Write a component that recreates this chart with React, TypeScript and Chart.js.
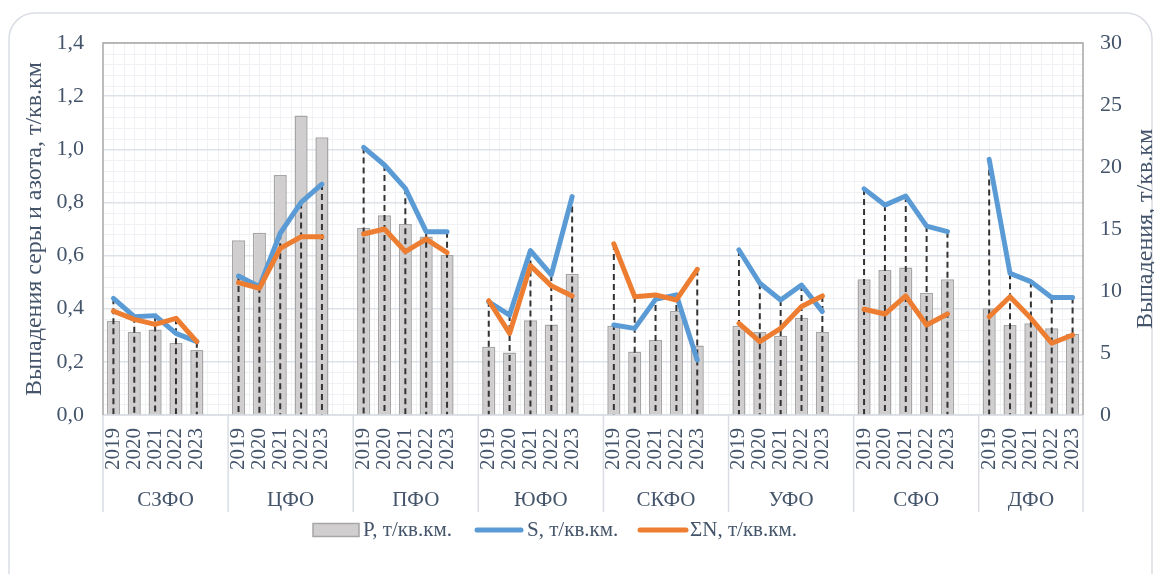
import React, { useEffect, useRef } from 'react';
import { Chart, registerables } from 'chart.js';

Chart.register(...registerables);

// ---------- data ----------
const regions = ['СЗФО', 'ЦФО', 'ПФО', 'ЮФО', 'СКФО', 'УФО', 'СФО', 'ДФО'];
const years = ['2019', '2020', '2021', '2022', '2023'];

// P, т/кв.км. (right axis, 0–30)
const pValues = [
  7.6, 6.7, 6.9, 5.8, 5.25,
  14.1, 14.7, 19.35, 24.15, 22.4,
  15.1, 16.1, 15.4, 14.4, 12.9,
  5.5, 5.05, 7.65, 7.3, 11.4,
  7.2, 5.1, 6.05, 8.4, 5.6,
  7.2, 6.7, 6.4, 7.85, 6.7,
  10.95, 11.7, 11.9, 9.85, 10.95,
  8.6, 7.25, 7.4, 7.0, 6.55,
];
// S, т/кв.км. (left axis, 0–1.4)
const sValues = [
  0.439, 0.37, 0.374, 0.307, 0.276,
  0.523, 0.483, 0.684, 0.8, 0.869,
  1.007, 0.941, 0.853, 0.69, 0.69,
  0.426, 0.376, 0.619, 0.527, 0.822,
  0.339, 0.326, 0.435, 0.452, 0.207,
  0.621, 0.496, 0.433, 0.489, 0.389,
  0.851, 0.79, 0.824, 0.711, 0.69,
  0.962, 0.533, 0.502, 0.442, 0.442,
];
// ΣN, т/кв.км. (left axis)
const nValues = [
  0.391, 0.36, 0.341, 0.364, 0.276,
  0.498, 0.477, 0.627, 0.671, 0.671,
  0.681, 0.7, 0.615, 0.662, 0.611,
  0.43, 0.307, 0.562, 0.486, 0.448,
  0.644, 0.445, 0.452, 0.433, 0.548,
  0.345, 0.276, 0.326, 0.408, 0.448,
  0.398, 0.38, 0.448, 0.339, 0.38,
  0.37, 0.445, 0.364, 0.27, 0.301,
];

const seriesNames = ['P, т/кв.км.', 'S, т/кв.км.', 'ΣN, т/кв.км.'];
const leftTitle = 'Выпадения серы и азота, т/кв.км';
const rightTitle = 'Выпадения, т/кв.км';

// ---------- build slots (blank slot between regions) ----------
const slotLabels: string[] = [];
const slotRegion: number[] = [];
const slotP: (number | null)[] = [];
const slotS: (number | null)[] = [];
const slotN: (number | null)[] = [];
regions.forEach((_, r) => {
  years.forEach((yr, k) => {
    const i = r * years.length + k;
    slotLabels.push(yr);
    slotRegion.push(r);
    slotP.push(pValues[i]);
    slotS.push(sValues[i]);
    slotN.push(nValues[i]);
  });
  if (r < regions.length - 1) {
    slotLabels.push('');
    slotRegion.push(-1);
    slotP.push(null);
    slotS.push(null);
    slotN.push(null);
  }
});

const FONT = '"Liberation Serif", "Times New Roman", serif';
const TEXT = '#44546a';
const BAR_FILL = '#d0cece';
const BAR_EDGE = '#a6a6a6';
const BLUE = '#5b9bd5';
const ORANGE = '#ed7d31';

const decor = {
  id: 'decor',
  beforeDraw(chart: any) {
    const { ctx, chartArea: a, scales } = chart;
    ctx.save();
    ctx.fillStyle = '#ffffff';
    ctx.fillRect(0, 0, chart.width, chart.height);
    // outer rounded frame
    ctx.strokeStyle = '#dadee4';
    ctx.lineWidth = 1.5;
    ctx.beginPath();
    (ctx as any).roundRect(9, 13, 1143, 600, 26);
    ctx.stroke();
    // minor grid
    ctx.strokeStyle = '#eff1f4';
    ctx.lineWidth = 1;
    const y = scales.y;
    ctx.beginPath();
    for (let k = 1; k < 35; k++) {
      if (k % 5 === 0) continue;
      const py = Math.round(y.getPixelForValue(k * 0.04)) + 0.5;
      ctx.moveTo(a.left, py);
      ctx.lineTo(a.right, py);
    }
    const x = scales.x;
    const w = x.getPixelForValue(1) - x.getPixelForValue(0);
    for (let i = 1; i < slotLabels.length * 2; i++) {
      const px = Math.round(a.left + (i * w) / 2) + 0.5;
      ctx.moveTo(px, a.top);
      ctx.lineTo(px, a.bottom);
    }
    ctx.stroke();
    ctx.restore();
  },
  afterDatasetDraw(chart: any, args: any) {
    if (args.index !== 0) return;
    const { ctx, chartArea: a, scales } = chart;
    const x = scales.x;
    const y = scales.y;
    ctx.save();
    ctx.strokeStyle = '#333333';
    ctx.lineWidth = 2;
    ctx.setLineDash([6, 4]);
    for (let i = 0; i < slotLabels.length; i++) {
      const s = slotS[i];
      const n = slotN[i];
      if (s == null || n == null) continue;
      const px = x.getPixelForValue(i);
      const top = y.getPixelForValue(Math.max(s, n));
      ctx.beginPath();
      ctx.moveTo(px, top);
      ctx.lineTo(px, a.bottom);
      ctx.stroke();
    }
    ctx.restore();
  },
  afterDraw(chart: any) {
    const { ctx, chartArea: a, scales } = chart;
    const x = scales.x;
    const w = x.getPixelForValue(1) - x.getPixelForValue(0);
    ctx.save();
    // plot frame
    ctx.lineWidth = 1.5;
    ctx.strokeStyle = '#d9dde3';
    ctx.beginPath();
    ctx.moveTo(a.left, a.bottom);
    ctx.lineTo(a.right, a.bottom);
    ctx.stroke();
    ctx.strokeStyle = '#a6a6a6';
    ctx.beginPath();
    ctx.moveTo(a.left, a.bottom);
    ctx.lineTo(a.left, a.top);
    ctx.lineTo(a.right, a.top);
    ctx.lineTo(a.right, a.bottom);
    ctx.stroke();

    // group separators & labels
    ctx.strokeStyle = '#d9dde3';
    ctx.lineWidth = 1.5;
    ctx.fillStyle = TEXT;
    ctx.font = `21px ${FONT}`;
    ctx.textAlign = 'center';
    ctx.textBaseline = 'middle';
    const groupSize = years.length + 1;
    regions.forEach((name, r) => {
      const l = a.left + r * groupSize * w;
      const rr = Math.min(a.left + (r + 1) * groupSize * w, a.right);
      ctx.beginPath();
      ctx.moveTo(l, a.bottom);
      ctx.lineTo(l, 512);
      ctx.stroke();
      ctx.fillText(name, (l + rr) / 2, 500);
    });
    ctx.beginPath();
    ctx.moveTo(a.right, a.bottom);
    ctx.lineTo(a.right, 512);
    ctx.stroke();

    // axis titles
    ctx.font = `24px ${FONT}`;
    const cy = (a.top + a.bottom) / 2;
    ctx.save();
    ctx.translate(35, cy);
    ctx.rotate(-Math.PI / 2);
    ctx.fillText(leftTitle, 0, 0);
    ctx.restore();
    ctx.save();
    ctx.translate(1146, cy);
    ctx.rotate(-Math.PI / 2);
    ctx.fillText(rightTitle, 0, 0);
    ctx.restore();

    // legend
    const ly = 530;
    ctx.font = `21px ${FONT}`;
    ctx.textAlign = 'left';
    ctx.fillStyle = BAR_FILL;
    ctx.fillRect(313, 523.5, 46, 13);
    ctx.strokeStyle = BAR_EDGE;
    ctx.lineWidth = 1.5;
    ctx.strokeRect(313, 523.5, 46, 13);
    ctx.fillStyle = TEXT;
    ctx.fillText(seriesNames[0], 363, ly);
    ctx.lineCap = 'round';
    ctx.lineWidth = 5;
    ctx.strokeStyle = BLUE;
    ctx.beginPath();
    ctx.moveTo(477, ly);
    ctx.lineTo(521, ly);
    ctx.stroke();
    ctx.fillText(seriesNames[1], 527, ly);
    ctx.strokeStyle = ORANGE;
    ctx.beginPath();
    ctx.moveTo(640, ly);
    ctx.lineTo(686, ly);
    ctx.stroke();
    ctx.fillText(seriesNames[2], 690, ly);
    ctx.restore();
  },
};

export default function App() {
  const ref = useRef<HTMLCanvasElement>(null);
  useEffect(() => {
    if (!ref.current) return;
    const chart = new Chart(ref.current, {
      type: 'bar',
      data: {
        labels: slotLabels,
        datasets: [
          {
            type: 'bar',
            label: seriesNames[0],
            data: slotP,
            yAxisID: 'y2',
            backgroundColor: BAR_FILL,
            borderColor: BAR_EDGE,
            borderWidth: 1.5,
            barPercentage: 0.9,
            categoryPercentage: 0.7,
            order: 2,
          },
          {
            type: 'line',
            label: seriesNames[1],
            data: slotS,
            yAxisID: 'y',
            borderColor: BLUE,
            backgroundColor: BLUE,
            borderWidth: 5,
            pointRadius: 0,
            borderCapStyle: 'round',
            borderJoinStyle: 'round',
            spanGaps: false,
            order: 1,
          },
          {
            type: 'line',
            label: seriesNames[2],
            data: slotN,
            yAxisID: 'y',
            borderColor: ORANGE,
            backgroundColor: ORANGE,
            borderWidth: 5,
            pointRadius: 0,
            borderCapStyle: 'round',
            borderJoinStyle: 'round',
            spanGaps: false,
            order: 0,
          },
        ] as any,
      },
      options: {
        responsive: false,
        maintainAspectRatio: false,
        animation: false,
        layout: { padding: { top: 43, left: 0, right: 0, bottom: 0 } },
        plugins: {
          legend: { display: false },
          tooltip: { enabled: false },
          title: { display: false },
        },
        scales: {
          x: {
            type: 'category',
            offset: true,
            grid: { display: false, drawTicks: false },
            border: { display: false },
            ticks: {
              autoSkip: false,
              maxRotation: 90,
              minRotation: 90,
              padding: 13,
              color: TEXT,
              font: { family: FONT, size: 21 },
            },
            afterFit: (s: any) => {
              s.height = 159;
            },
          },
          y: {
            type: 'linear',
            position: 'left',
            min: 0,
            max: 1.4,
            grid: { color: '#dde2e9', lineWidth: 1.5, drawTicks: false },
            border: { display: false },
            ticks: {
              stepSize: 0.2,
              padding: 19,
              color: TEXT,
              font: { family: FONT, size: 22 },
              callback: (v: any) => Number(v).toFixed(1).replace('.', ','),
            },
            afterFit: (s: any) => {
              s.width = 103;
            },
          },
          y2: {
            type: 'linear',
            position: 'right',
            min: 0,
            max: 30,
            grid: { display: false, drawTicks: false },
            border: { display: false },
            ticks: {
              stepSize: 5,
              padding: 17,
              color: TEXT,
              font: { family: FONT, size: 22 },
            },
            afterFit: (s: any) => {
              s.width = 71;
            },
          },
        },
      } as any,
      plugins: [decor],
    });
    return () => chart.destroy();
  }, []);
  return (
    <div style={{ position: 'fixed', left: 0, top: 0, width: 1154, height: 574, background: '#fff' }}>
      <canvas ref={ref} width={1154} height={574} style={{ display: 'block' }} />
    </div>
  );
}
